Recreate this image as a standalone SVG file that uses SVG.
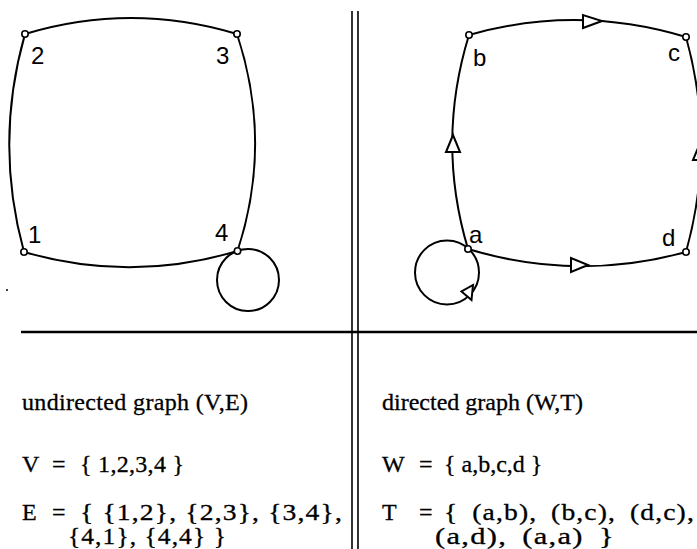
<svg xmlns="http://www.w3.org/2000/svg" width="697" height="549" viewBox="0 0 697 549">
<style>
.edge{fill:none;stroke:#000;stroke-width:2}
.node{fill:#fff;stroke:#000;stroke-width:1.6}
.arr{fill:#fff;stroke:#000;stroke-width:2;stroke-linejoin:miter}
.lbl{font-family:"Liberation Sans","DejaVu Sans",sans-serif;font-size:24px;fill:#000}
.txt{font-family:"Liberation Serif","DejaVu Serif",serif;font-size:24px;fill:#000;stroke:#000;stroke-width:0.3}
.fx{letter-spacing:1px}
.rule{stroke:#000;fill:none}
</style>
<rect width="697" height="549" fill="#fff"/>
<g id="frame">
<line class="rule" x1="21" y1="332" x2="697" y2="332" stroke-width="2.4"/>
<line class="rule" x1="352" y1="11" x2="352" y2="549" stroke-width="1.6"/>
<line class="rule" x1="358" y1="11" x2="358" y2="549" stroke-width="1.6"/>
<circle cx="7" cy="290" r="1" fill="#000"/>
</g>
<g id="connectors">
<path class="edge" d="M25,34 Q131,2 237,34"/>
<path class="edge" d="M25,34 Q-6,143 24,252"/>
<path class="edge" d="M237,34 Q273,143 237.5,251"/>
<path class="edge" d="M24,252 Q131,283 237.5,251"/>
<circle class="edge" cx="248" cy="280" r="31"/>
<path class="edge" d="M469,35 Q577,4 686,37"/>
<path class="edge" d="M468,249 Q436,142 469,35"/>
<path class="edge" d="M468,249 Q577,282 686,252"/>
<path class="edge" d="M686,252 Q716,145 686,37"/>
<circle class="edge" cx="447" cy="272.5" r="32"/>
<polygon class="arr" points="583,15 583,28 602,21"/>
<polygon class="arr" points="453,135 446,152 460,152"/>
<polygon class="arr" points="571,258 571,272 588,265"/>
<polygon class="arr" points="700,143 693,160 707,160"/>
<polygon class="arr" points="461.5,291.5 471.5,300 473,285"/>
</g>
<g id="node-1"><circle class="node" cx="24" cy="252" r="3.2"/><text class="lbl" x="28" y="243">1</text></g>
<g id="node-2"><circle class="node" cx="25" cy="34" r="3.2"/><text class="lbl" x="31" y="64">2</text></g>
<g id="node-3"><circle class="node" cx="237" cy="34" r="3.2"/><text class="lbl" x="216" y="64">3</text></g>
<g id="node-4"><circle class="node" cx="237.5" cy="251" r="3.2"/><text class="lbl" x="215" y="241">4</text></g>
<g id="node-a"><circle class="node" cx="468" cy="249" r="3.2"/><text class="lbl" x="469" y="243">a</text></g>
<g id="node-b"><circle class="node" cx="469" cy="35" r="3.2"/><text class="lbl" x="473" y="66">b</text></g>
<g id="node-c"><circle class="node" cx="686" cy="37" r="3.2"/><text class="lbl" x="668" y="61">c</text></g>
<g id="node-d"><circle class="node" cx="686" cy="252" r="3.2"/><text class="lbl" x="662" y="246">d</text></g>
<g id="text-left">
<text class="txt" x="22" y="410" textLength="226" lengthAdjust="spacing">undirected graph (V,E)</text>
<text class="txt" x="22" y="472">V</text>
<text class="txt" x="52" y="472">=</text>
<text class="txt" x="80" y="472" textLength="104" lengthAdjust="spacing">{ 1,2,3,4 }</text>
<text class="txt" x="22" y="520">E</text>
<text class="txt" x="52" y="520">=</text>
<text class="txt fx" x="80" y="520" textLength="263" lengthAdjust="spacingAndGlyphs">{ {1,2}, {2,3}, {3,4},</text>
<text class="txt fx" x="68" y="544" textLength="159" lengthAdjust="spacingAndGlyphs">{4,1}, {4,4} }</text>
</g>
<g id="text-right">
<text class="txt" x="382" y="410">directed graph (W,T)</text>
<text class="txt" x="382" y="472">W</text>
<text class="txt" x="419" y="472">=</text>
<text class="txt" x="444" y="472">{ a,b,c,d }</text>
<text class="txt" x="382" y="520">T</text>
<text class="txt" x="419" y="520">=</text>
<text class="txt fx" x="444" y="520" word-spacing="5" textLength="251" lengthAdjust="spacingAndGlyphs">{ (a,b), (b,c), (d,c),</text>
<text class="txt fx" x="435" y="544" word-spacing="5" textLength="180" lengthAdjust="spacingAndGlyphs">(a,d), (a,a) }</text>
</g>
</svg>
